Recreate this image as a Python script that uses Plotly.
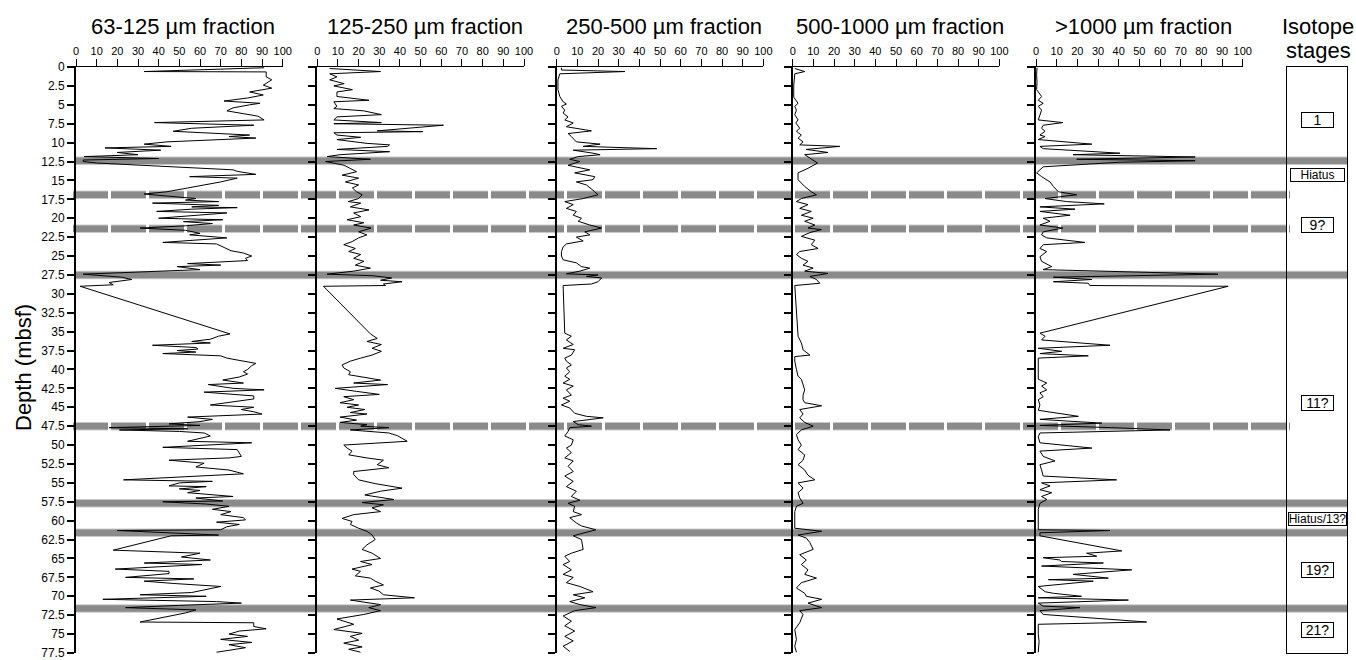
import plotly.graph_objects as go

W, H = 1356, 660

# ---------------- data (depth in mbsf, fraction in %) ----------------
depth_63_125 = [0.1, 0.6, 0.65, 1.3, 1.7, 2.4, 2.8, 3.3, 3.7, 4.1, 4.5, 4.8, 5.0, 5.4, 5.8, 6.3, 6.5, 7.0, 7.35, 7.7,
                8.1, 8.5, 8.8, 9.0, 9.2, 9.4, 9.9, 10.2, 10.5, 10.7, 11.0, 11.3, 11.6, 11.85, 12.1, 12.3, 12.5, 12.7,
                13.6, 13.8, 14.2, 14.5, 14.7, 15.0, 15.2, 16.0, 16.5, 16.8, 17.1, 17.4, 17.6, 17.8, 18.0, 18.3, 18.5,
                18.6, 18.8, 19.1, 19.3, 19.7, 20.0, 20.2, 20.45, 20.7, 21.0, 21.3, 21.6, 22.0, 22.2, 22.6, 22.9, 23.2,
                23.4, 24.0, 24.3, 24.6, 25.0, 25.3, 25.6, 26.0, 26.2, 26.4, 26.8, 27.4, 27.8, 28.1, 28.5, 28.8, 29.0,
                35.3, 35.6, 36.0, 36.3, 36.5, 36.8, 37.1, 37.3, 37.5, 37.7, 37.9, 38.2, 38.5, 39.0, 39.2, 39.5, 40.0,
                40.3, 40.6, 41.0, 41.4, 41.8, 42.0, 42.5, 42.7, 43.0, 43.5, 43.9, 44.2, 44.7, 45.0, 45.3, 45.6, 45.9,
                46.3, 46.6, 46.9, 47.2, 47.4, 47.7, 47.85, 48.0, 48.2, 48.4, 48.8, 49.0, 49.5, 49.7, 50.3, 50.6, 51.0,
                51.5, 51.7, 52.0, 52.4, 52.9, 53.3, 53.8, 54.6, 54.8, 55.0, 55.4, 55.5, 55.8, 56.0, 56.3, 56.8, 57.0,
                57.4, 57.5, 57.8, 58.1, 58.5, 58.8, 59.2, 59.6, 59.9, 60.2, 60.5, 60.8, 61.2, 61.3, 61.9, 62.0, 63.9,
                64.3, 64.8, 65.2, 65.6, 65.8, 66.4, 66.7, 67.0, 67.5, 67.7, 68.0, 68.3, 68.7, 69.5, 69.8, 70.0, 70.4,
                70.7, 70.9, 71.2, 71.5, 71.8, 72.2, 73.4, 73.5, 74.0, 74.3, 74.6, 75.0, 75.3, 75.7, 76.1, 76.4, 76.8,
                77.4]
frac_63_125 = [91, 33, 92, 92, 94.7, 90.6, 94.7, 84, 90.6, 83, 71.6, 89, 84, 76, 73, 83, 88, 91, 38, 86,
               56, 47, 74, 84, 74, 87, 44, 33, 46, 14, 41, 20, 30, 4, 40, 3.5, 3.5, 10,
               76, 78, 87, 55, 78, 73, 70, 54, 44, 33, 45, 58, 53, 69, 37, 69, 56,
               78, 56, 39, 73, 56, 40, 71, 52, 66, 53, 31, 53, 60, 55, 73, 55, 42,
               68, 73, 75, 81, 85, 82, 83, 54, 70, 49, 60, 3.5, 22, 27, 16, 18, 2,
               74.5, 69, 65, 56, 65, 37, 58, 59, 49, 58, 42, 70, 73, 83, 87, 85, 83,
               81, 83, 79, 71, 81, 64, 76, 91, 62, 86, 86, 77, 65, 86, 80, 86, 90,
               54, 66, 60, 45, 60, 16, 54, 21, 50, 62, 65, 62, 54, 85, 42, 78, 79,
               80, 74, 45, 62, 58, 74, 81, 23, 66, 50, 45, 63, 50, 60, 54, 76, 58,
               71, 42, 63, 74, 66, 75, 70, 81, 82, 68, 79, 73, 70, 20, 69, 46, 18,
               60, 51, 65, 33, 61, 19, 45, 45, 24, 57, 33, 47, 70, 56, 31, 63, 13,
               68, 80, 50, 24, 58, 53, 31, 86, 86, 92, 79, 74, 83, 70, 85, 74, 82,
               68]

depth_125_250 = [0.2, 0.6, 0.9, 1.3, 1.7, 2.2, 2.5, 3.0, 3.3, 3.9, 4.4, 4.6, 5.2, 5.5, 5.8, 6.3, 6.6, 7.0, 7.35, 7.5,
                 7.7, 8.1, 8.45, 8.55, 8.7, 9.0, 9.3, 9.6, 10.1, 10.3, 10.5, 10.9, 11.2, 11.6, 11.85, 12.2, 12.5, 13.0,
                 13.4, 13.85, 14.3, 14.7, 15.2, 15.6, 16.0, 16.5, 16.9, 17.4, 17.8, 18.0, 18.5, 18.9, 19.3, 19.8, 20.2,
                 20.6, 20.9, 21.3, 21.8, 22.2, 22.6, 23.1, 23.5, 24.0, 24.4, 24.8, 25.3, 25.7, 26.2, 26.6, 27.0, 27.4,
                 27.6, 27.9, 28.2, 28.4, 28.7, 28.9, 29.0,
                 35.3, 35.9, 36.3, 36.7, 37.2, 37.6, 38.1, 38.5, 38.9, 39.4, 39.8, 40.3, 40.7, 41.4, 41.8, 42.0, 42.5,
                 42.9, 43.3, 43.6, 44.0, 44.4, 44.7, 45.0, 45.3, 45.7, 45.9, 46.3, 46.7, 47.0, 47.3, 47.5, 47.7, 48.0,
                 48.4, 48.75, 49.5, 50.0, 50.4, 50.8, 51.3, 51.7, 52.0, 52.6, 53.0, 53.5, 53.9, 54.6, 55.1, 55.7, 56.1,
                 56.6, 57.2, 57.6, 57.9, 58.3, 58.8, 59.2, 59.7, 60.1, 60.5, 61.0, 61.4, 61.9, 62.5, 63.2, 63.8, 64.3,
                 65.0, 65.4, 65.8, 66.4, 66.7, 67.3, 67.6, 68.0, 68.5, 68.9, 69.3, 69.8, 70.2, 70.5, 70.9, 71.1, 71.5,
                 71.9, 72.4, 73.0, 73.7, 74.4, 74.9, 75.3, 75.8, 76.2, 76.7, 77.0, 77.4]
frac_125_250 = [6, 30.6, 6, 9.5, 6, 13, 8, 17, 9.5, 9.5, 25, 8, 9.5, 8, 22.5, 31, 9.5, 8, 31, 8,
                61, 43, 29, 51, 8, 9.5, 21, 9.5, 24, 35, 34, 9.5, 35, 11, 4.7, 25.7, 4, 13,
                16, 19, 12, 20, 13.6, 20, 17, 19, 21.7, 20, 15, 21, 16, 25, 17.6, 21, 14.4,
                22.5, 17.6, 26, 20, 24, 20, 16.8, 12.8, 18.4, 15.2, 21, 17.6, 22.5, 18.4, 25.7, 17.6, 4.7,
                26.5, 36, 30.6, 41, 32, 33, 3,
                25.7, 29, 24, 31, 26.5, 31, 26.5, 21, 16, 12, 12.8, 16, 15.2, 30.6, 17.6, 34, 8.7,
                19, 30, 12.8, 17.6, 11, 20, 14.4, 23, 16, 24, 11, 19, 11, 24, 21, 34.6, 16,
                34.6, 38.7, 43.5, 12.8, 14.4, 16.8, 15.2, 24, 32, 29, 34.6, 17.6, 17.6, 20, 28, 41, 30.6,
                23, 37, 21.7, 32, 26.5, 30.6, 17.6, 12, 16.8, 16, 20, 24, 26.5, 28, 24, 21.7, 26.5,
                30.6, 20.9, 26.5, 16.8, 20.9, 18.4, 25.7, 28, 32, 25.7, 29.8, 32, 47, 16, 25.7, 30.6, 24.9,
                30.6, 22.5, 9.5, 17.6, 8, 21.7, 16, 20, 12.8, 21.7, 15.2, 20.9]

depth_250_500 = [0.1, 0.4, 0.6, 0.9, 1.7, 3.0, 3.9, 4.6, 4.9, 5.2, 5.7, 6.1, 6.6, 7.0, 7.4, 7.9, 8.45, 8.8, 9.2, 9.9,
                 10.2, 10.5, 10.8, 11.0, 11.4, 11.6, 11.85, 12.2, 12.5, 13.0, 13.6, 14.0, 14.5, 14.9, 15.2, 15.6, 16.5,
                 16.9, 17.4, 17.8, 18.2, 18.7, 19.1, 19.6, 20.0, 20.4, 20.9, 21.3, 21.8, 22.2, 22.5, 23.0, 23.4, 23.8,
                 24.4, 25.0, 25.5, 25.9, 26.4, 26.6, 27.0, 27.35, 27.5, 27.7, 27.9, 28.4, 28.7, 28.9,
                 35.2, 35.6, 36.1, 36.7, 37.2, 37.4, 38.1, 38.5, 38.9, 39.4, 39.8, 40.3, 40.9, 41.3, 41.8, 42.2, 42.7,
                 43.4, 43.8, 44.2, 44.7, 45.1, 45.8, 46.2, 46.4, 46.9, 47.3, 47.5, 47.7, 48.2, 48.8, 49.3, 50.0, 50.4,
                 51.0, 51.7, 52.1, 52.8, 53.5, 54.1, 54.8, 55.5, 56.1, 56.8, 57.3, 57.7, 58.1, 58.8, 59.2, 59.6, 60.3,
                 60.7, 61.2, 61.6, 62.0, 62.5, 63.8, 64.3, 64.7, 65.4, 65.8, 66.5, 67.1, 67.5, 68.2, 68.7, 69.4, 69.8,
                 70.2, 70.7, 71.1, 71.5, 71.9, 72.6, 73.3, 73.9, 74.6, 75.3, 75.9, 76.6, 77.3]
frac_250_500 = [2.3, 2.3, 33, 1.5, 0.6, 0.6, 1.5, 3.1, 4.7, 2.3, 3.9, 3.1, 5.5, 3.9, 8, 4.7, 16.8, 5.5, 7.1, 9.5,
                21, 12.8, 48.4, 8, 17.6, 21, 10.4, 6.3, 11.2, 5.5, 16, 8.7, 18.4, 17.6, 9.5, 14.4, 18.4,
                20, 12.8, 3.9, 8, 4.7, 9.5, 8, 12, 10.4, 16, 21.7, 13.6, 16, 9.5, 12.8, 4.7, 3.1,
                2.3, 2.3, 3.1, 9.5, 12, 16, 11.2, 4.7, 20, 14.4, 21.7, 20, 16.8, 3.1,
                3.9, 7.1, 4.7, 8, 3.1, 8.7, 7.1, 3.9, 4.7, 7.1, 4.7, 6.3, 3.9, 6.3, 3.1, 8, 4.7,
                7.1, 3.1, 6.3, 2.3, 6.3, 8.7, 14.4, 22.5, 8, 10.4, 16.8, 6.3, 5.5, 3.9, 8, 7.1, 4.7,
                7.1, 3.9, 8, 5.5, 8, 3.9, 8, 4.7, 9.5, 7.1, 11.2, 5.5, 8.7, 8, 12, 6.3, 9.5,
                12, 19, 13.6, 8, 12, 12.8, 7.1, 3.9, 6.3, 3.1, 7.1, 3.1, 8, 4.7, 11.2, 17.6, 8,
                13.6, 6.3, 11.2, 19, 8.7, 3.1, 7.1, 3.9, 8.7, 3.9, 8, 3.1, 6.3]

depth_500_1000 = [0.2, 0.6, 0.9, 2.5, 4.0, 4.8, 5.2, 5.7, 6.3, 7.0, 7.4, 8.1, 8.5, 9.0, 9.4, 9.9, 10.3, 10.5, 10.9,
                  11.3, 11.6, 12.3, 12.7, 13.4, 14.0, 14.9, 15.8, 16.5, 16.9, 17.4, 17.8, 18.2, 18.7, 19.1, 19.6,
                  20.0, 20.4, 20.9, 21.3, 21.5, 21.9, 22.4, 22.9, 23.5, 24.0, 24.4, 24.8, 25.3, 25.7, 26.2, 26.6,
                  27.0, 27.3, 27.7, 28.1, 28.6, 28.9,
                  35.6, 36.5, 37.4, 38.1, 38.3, 38.9, 40.0, 40.9, 41.3, 42.0, 42.7, 43.4, 44.0, 44.4, 44.8, 45.3,
                  45.9, 46.4, 47.0, 47.5, 48.0, 48.6, 49.3, 50.0, 50.6, 51.3, 52.0, 52.6, 53.3, 54.0, 54.6, 55.0,
                  55.7, 56.3, 57.0, 57.7, 58.1, 58.8, 59.9, 61.0, 61.4, 61.9, 62.3, 62.9, 63.8, 64.5, 65.2, 65.8,
                  66.5, 67.1, 67.6, 68.2, 68.9, 69.6, 70.0, 70.4, 70.9, 71.5, 71.9, 72.4, 73.5, 74.4, 75.7, 76.6, 77.4]
frac_500_1000 = [1, 5.8, 1, 0.5, 0.5, 2.6, 1, 1.8, 1, 2.6, 1.5, 3.4, 1.8, 4.2, 2.6, 5, 3.4, 22.8, 6.6,
                 17, 5.8, 9.9, 12, 7.4, 2.6, 2.6, 5.8, 9, 11.5, 4.2, 1.8, 7.4, 3.4, 9, 4.2,
                 9.9, 5.8, 10.7, 7.4, 13.9, 8.3, 4.2, 10.7, 9, 12.3, 3.4, 1.8, 4.2, 7.4, 5, 9.9,
                 5.8, 17, 8.3, 11.5, 13.1, 1,
                 2.6, 4.2, 5, 8.3, 1, 1, 1.8, 2.6, 4.2, 5, 5.8, 5, 5, 5.8, 14, 3.4,
                 5, 3.4, 5.8, 9.9, 4.2, 1.8, 2.6, 4.2, 2.6, 5.8, 5, 2.6, 5.8, 7.4, 10.7, 2.6,
                 5, 2.6, 3.4, 5, 1.8, 1, 1, 1, 14, 2.6, 6.6, 8.3, 9.9, 3.4, 6.6, 4.2,
                 7.4, 5.8, 11.5, 4.2, 1.8, 5.8, 6.6, 14, 7.4, 14, 3.4, 5, 3.4, 1, 1.8, 1, 1.8]

depth_gt1000 = [0.1, 1.0, 2.0, 3.0, 3.9, 4.4, 4.8, 5.2, 5.7, 7.0, 7.35, 7.7, 8.1, 8.5, 9.0, 9.2, 9.6, 10.2, 10.5,
                10.8, 11.4, 11.6, 11.9, 12.2, 12.4, 12.6, 13.2, 13.6, 14.0, 14.5, 15.2, 15.8, 16.5, 16.9, 17.4,
                17.8, 18.1, 18.5, 18.8, 19.1, 19.6, 20.0, 20.4, 20.9, 21.3, 21.8, 22.2, 22.6, 23.2, 23.5, 24.0,
                24.4, 25.1, 25.7, 26.4, 26.8, 27.4, 27.8, 28.1, 28.4, 28.6, 28.9, 29.0,
                35.2, 35.6, 36.1, 36.8, 37.2, 37.6, 37.9, 38.2, 38.5, 40.0, 41.3, 41.8, 42.2, 42.7, 43.1, 43.6,
                44.0, 44.7, 45.4, 46.2, 46.6, 47.1, 47.4, 47.7, 48.0, 48.4, 48.9, 49.7, 50.4, 50.8, 51.5, 52.1,
                52.6, 53.3, 54.1, 54.6, 55.0, 55.4, 55.9, 56.3, 56.8, 57.2, 57.7, 58.5, 60.0, 61.2, 61.3, 61.6,
                62.0, 64.0, 64.3, 64.7, 64.9, 65.2, 65.4, 65.6, 66.0, 66.5, 67.1, 67.6, 67.8, 68.0, 68.7, 69.4,
                69.6, 70.0, 70.2, 70.5, 70.9, 71.3, 71.5, 71.9, 72.4, 73.4, 73.7, 75.0, 76.0, 77.4]
frac_gt1000 = [0.5, 0.3, 0.5, 0.3, 2.7, 1.1, 3.5, 1.1, 2.7, 1.1, 13, 3.5, 2.7, 4.4, 1.9, 4.4, 1.1, 27, 1.9,
               3.5, 40.6, 18, 77, 19.7, 77, 40, 3.5, 1.9, 0.3, 2.7, 6.8, 8.4, 10.8, 19.7, 4.4,
               14.8, 33, 1.9, 18.9, 1.9, 16.5, 3.5, 6.8, 1.9, 13, 3.5, 2.7, 5.2, 23.7, 3.5, 1.9,
               5.2, 1.9, 2.7, 7.6, 3.5, 88, 8.4, 27, 8.4, 25.3, 26, 93,
               1.9, 4.4, 2.7, 35.8, 1.1, 12.4, 1.9, 25.3, 1.1, 1.1, 1.1, 5.2, 2.7, 5.2, 1.9, 3.5,
               1.1, 1.9, 1.1, 20.5, 1.9, 31.8, 1.9, 36.6, 64.8, 1.9, 1.1, 1.9, 27, 1.9, 3.5, 9.2,
               1.9, 2.7, 3.5, 39, 2.7, 6.8, 1.9, 7.6, 2.7, 5.2, 1.9, 1.1, 1.1, 1.1, 35.8, 1.9,
               1.9, 41.5, 24.5, 29.4, 3.5, 11.6, 12.4, 32.6, 2.7, 46.3, 18, 35, 6, 27.7, 1.1, 4.4,
               8.4, 22, 1.1, 44.7, 1.1, 3.5, 21.3, 1.9, 3.5, 53.5, 1.1, 1.1, 1.5, 1.1]

panel_titles = ["63-125 \u00b5m fraction", "125-250 \u00b5m fraction", "250-500 \u00b5m fraction",
                "500-1000 \u00b5m fraction", ">1000 \u00b5m fraction"]
x_ticks = [0, 10, 20, 30, 40, 50, 60, 70, 80, 90, 100]
depth_ticks = [i * 2.5 for i in range(32)]
depth_tick_labels = [("%g" % t) for t in depth_ticks]

solid_band_depths = [12.4, 27.5, 57.7, 61.6, 71.6]
dashed_band_depths = [16.9, 21.4, 47.5]

stage_labels = ["1", "Hiatus", "9?", "11?", "Hiatus/13?", "19?", "21?"]
stage_depths = [7.0, 14.3, 20.9, 44.4, 59.8, 66.5, 74.5]

series = [(depth_63_125, frac_63_125), (depth_125_250, frac_125_250), (depth_250_500, frac_250_500),
          (depth_500_1000, frac_500_1000), (depth_gt1000, frac_gt1000)]

# ---------------- layout geometry (pixels) ----------------
FONT = "Arial, Liberation Sans, Helvetica, sans-serif"
panel_left = [76, 317.3, 556.7, 792.7, 1036]
panel_w = 206.7
top_px, bot_px = 67, 653
ydom = [1 - bot_px / H, 1 - top_px / H]
iso_l, iso_r = 1287, 1347
DEPTH_RANGE = [77.5, 0]

fig = go.Figure()

# band subplot (xy) spans the whole figure, drawn first (below data)
band_color = "#8a8a8a"
edge_color = "#c9c9c9"
for d in solid_band_depths:
    for col, wdt in ((edge_color, 8.5), (band_color, 6.5)):
        fig.add_trace(go.Scatter(x=[76 / W, iso_r / W], y=[d, d], mode="lines",
                                 line=dict(color=col, width=wdt), xaxis="x", yaxis="y",
                                 showlegend=False, hoverinfo="skip"))
for d in dashed_band_depths:
    for col, wdt in ((edge_color, 8.5), (band_color, 6.5)):
        fig.add_trace(go.Scatter(x=[73 / W, 1290 / W], y=[d, d], mode="lines",
                                 line=dict(color=col, width=wdt, dash="35px,3px"),
                                 xaxis="x", yaxis="y", showlegend=False, hoverinfo="skip"))

layout = dict(
    width=W, height=H,
    margin=dict(l=0, r=0, t=0, b=0, pad=0, autoexpand=False),
    paper_bgcolor="white", plot_bgcolor="rgba(0,0,0,0)",
    showlegend=False,
    font=dict(family=FONT, color="black"),
    xaxis=dict(domain=[0, 1], range=[0, 1], visible=False, fixedrange=True, automargin=False),
    yaxis=dict(domain=ydom, range=DEPTH_RANGE, visible=False, fixedrange=True, automargin=False),
)

annotations = []
for i, ((dep, val), title) in enumerate(zip(series, panel_titles)):
    n = i + 2
    xa, ya = "x%d" % n, "y%d" % n
    fig.add_trace(go.Scatter(x=val, y=dep, mode="lines", line=dict(color="black", width=1),
                             xaxis=xa, yaxis=ya, showlegend=False, hoverinfo="skip"))
    l = panel_left[i]
    layout["xaxis%d" % n] = dict(
        domain=[l / W, (l + panel_w) / W], range=[0, 100], anchor=ya, side="top",
        tickvals=x_ticks, ticks="outside", ticklen=7, tickwidth=1.2, tickcolor="black",
        showline=True, linewidth=1.2, linecolor="black", showgrid=False, zeroline=False,
        tickfont=dict(size=11, family=FONT, color="black"), fixedrange=True, automargin=False,
        ticklabeloverflow="allow")
    layout["yaxis%d" % n] = dict(
        domain=ydom, range=DEPTH_RANGE, anchor=xa,
        tickvals=depth_ticks, ticktext=depth_tick_labels, showticklabels=(i == 0),
        ticks="outside", ticklen=7, tickwidth=1.5, tickcolor="black",
        showline=True, linewidth=2, linecolor="black", showgrid=False, zeroline=False,
        tickfont=dict(size=12, family=FONT, color="black"), fixedrange=True, automargin=False,
        ticklabeloverflow="allow")
    annotations.append(dict(text=title, xref="paper", yref="paper",
                            x=(l + panel_w / 2 + 4) / W, y=1 - 27 / H, xanchor="center", yanchor="middle",
                            showarrow=False, font=dict(size=22, family=FONT, color="black")))

# isotope stage column
layout["xaxis7"] = dict(domain=[iso_l / W, iso_r / W], range=[0, 1], anchor="y7",
                        showline=True, mirror=True, linewidth=1.2, linecolor="black",
                        showticklabels=False, ticks="", showgrid=False, zeroline=False,
                        fixedrange=True, automargin=False)
layout["yaxis7"] = dict(domain=ydom, range=DEPTH_RANGE, anchor="x7",
                        showline=True, mirror=True, linewidth=1.2, linecolor="black",
                        showticklabels=False, ticks="", showgrid=False, zeroline=False,
                        fixedrange=True, automargin=False)
fig.add_trace(go.Scatter(x=[None], y=[None], xaxis="x7", yaxis="y7", showlegend=False))

for lab, d in zip(stage_labels, stage_depths):
    hiatus = lab.startswith("Hiatus")
    annotations.append(dict(
        text=lab, xref="x7", yref="y7", x=0.5, y=d, showarrow=False,
        xanchor="center", yanchor="middle",
        font=dict(size=12 if hiatus else 14, family=FONT, color="black"),
        bordercolor="black", borderwidth=1, borderpad=0, bgcolor="white",
        width=(57 if lab == "Hiatus/13?" else 53) if hiatus else 31,
        height=12 if hiatus else 14))

annotations.append(dict(text="Isotope", xref="paper", yref="paper", x=1318 / W, y=1 - 27 / H,
                        xanchor="center", yanchor="middle",
                        showarrow=False, font=dict(size=22, family=FONT, color="black")))
annotations.append(dict(text="stages", xref="paper", yref="paper", x=1318 / W, y=1 - 50 / H,
                        xanchor="center", yanchor="middle",
                        showarrow=False, font=dict(size=22, family=FONT, color="black")))
annotations.append(dict(text="Depth (mbsf)", xref="paper", yref="paper", x=23 / W, y=1 - 368 / H,
                        textangle=-90, showarrow=False, xanchor="center", yanchor="middle",
                        font=dict(size=22, family=FONT, color="black")))

layout["annotations"] = annotations
fig.update_layout(**layout)
fig.write_html("out.html", config={"responsive": False, "displayModeBar": False},
               post_script="document.body.style.margin='0';document.body.style.overflow='hidden';")
